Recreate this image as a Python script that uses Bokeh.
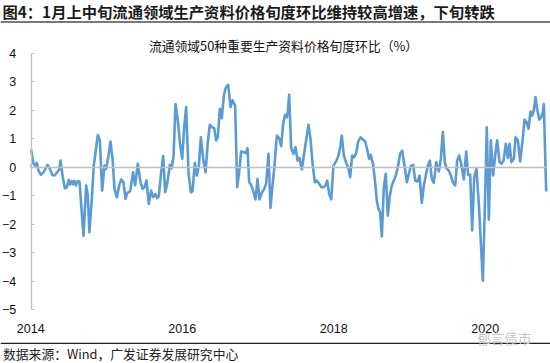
from bokeh.plotting import figure
from bokeh.models import Range1d, LinearAxis, FixedTicker, Label, Span, ColumnDataSource
from bokeh.embed import file_html
from bokeh.resources import INLINE

# ---------------- data ----------------
header_title = "图4：1月上中旬流通领域生产资料价格旬度环比维持较高增速，下旬转跌"
chart_title = "流通领域50种重要生产资料价格旬度环比（%）"
source_text = "数据来源：Wind，广发证券发展研究中心"
watermark_text = "郁言债市"

year_ticks = [2014, 2016, 2018, 2020]
value_ticks = [4, 3, 2, 1, 0, -1, -2, -3, -4, -5]

dates = [
    2014.006, 2014.033, 2014.055, 2014.081, 2014.103, 2014.134, 2014.169, 2014.222, 2014.253, 2014.283,
    2014.314, 2014.349, 2014.376, 2014.393, 2014.424, 2014.451, 2014.477, 2014.503, 2014.521, 2014.543,
    2014.561, 2014.578, 2014.596, 2014.622, 2014.644, 2014.697, 2014.732, 2014.754, 2014.776, 2014.807,
    2014.833, 2014.886, 2014.913, 2014.943, 2014.974, 2014.996, 2015.027, 2015.053, 2015.080, 2015.106,
    2015.137, 2015.168, 2015.194, 2015.225, 2015.251, 2015.278, 2015.313, 2015.352, 2015.379, 2015.414,
    2015.450, 2015.476, 2015.502, 2015.529, 2015.559, 2015.590, 2015.617, 2015.648, 2015.670, 2015.691,
    2015.722, 2015.749, 2015.775, 2015.802, 2015.837, 2015.859, 2015.885, 2015.912, 2015.942, 2015.969,
    2016.000, 2016.026, 2016.052, 2016.083, 2016.114, 2016.136, 2016.167, 2016.193, 2016.220, 2016.246,
    2016.277, 2016.308, 2016.338, 2016.365, 2016.396, 2016.422, 2016.448, 2016.470, 2016.497, 2016.523,
    2016.550, 2016.572, 2016.607, 2016.638, 2016.664, 2016.699, 2016.726, 2016.752, 2016.778, 2016.805,
    2016.840, 2016.862, 2016.884, 2016.910, 2016.937, 2016.968, 2016.994, 2017.020, 2017.051, 2017.086,
    2017.108, 2017.139, 2017.166, 2017.192, 2017.218, 2017.249, 2017.280, 2017.307, 2017.333, 2017.359,
    2017.381, 2017.394, 2017.412, 2017.439, 2017.469, 2017.496, 2017.522, 2017.549, 2017.579, 2017.606,
    2017.632, 2017.667, 2017.694, 2017.720, 2017.751, 2017.777, 2017.808, 2017.839, 2017.865, 2017.892,
    2017.914, 2017.940, 2017.967, 2017.997, 2018.037, 2018.063, 2018.090, 2018.107, 2018.134, 2018.165,
    2018.195, 2018.217, 2018.244, 2018.270, 2018.297, 2018.323, 2018.354, 2018.385, 2018.416, 2018.442,
    2018.468, 2018.490, 2018.521, 2018.547, 2018.569, 2018.591, 2018.613, 2018.635, 2018.662, 2018.688,
    2018.714, 2018.741, 2018.767, 2018.794, 2018.820, 2018.847, 2018.877, 2018.904, 2018.935, 2018.966,
    2018.992, 2019.018, 2019.049, 2019.076, 2019.106, 2019.133, 2019.163, 2019.190, 2019.216, 2019.243,
    2019.269, 2019.296, 2019.322, 2019.353, 2019.388, 2019.414, 2019.441, 2019.467, 2019.489, 2019.520,
    2019.546, 2019.573, 2019.604, 2019.630, 2019.656, 2019.683, 2019.718, 2019.749, 2019.775, 2019.802,
    2019.828, 2019.855, 2019.885, 2019.920, 2019.942, 2019.969, 2019.995, 2020.021, 2020.048, 2020.074,
    2020.105, 2020.132, 2020.158, 2020.189, 2020.215, 2020.242, 2020.272, 2020.299, 2020.321, 2020.347,
    2020.378, 2020.400, 2020.431, 2020.462, 2020.493, 2020.519, 2020.546, 2020.572, 2020.598, 2020.620,
    2020.642, 2020.664, 2020.686, 2020.713, 2020.739, 2020.761, 2020.774, 2020.805,
]

values = [
    0.62, 0.15, 0.06, 0.15, -0.12, -0.27, -0.18, 0.08, -0.06, -0.27,
    -0.29, -0.18, -0.08, 0.23, -0.35, -0.74, -0.71, -0.44, -0.61, -0.49,
    -0.60, -0.48, -0.64, -0.49, -0.50, -2.40, -0.64, -0.99, -2.28, -1.11,
    0.06, 1.13, 0.94, -0.82, 0.06, -0.06, 0.41, 0.90, 0.32, -0.76,
    -1.05, -0.64, -0.43, -0.53, -1.11, -0.90, -0.84, -0.18, -0.64, 0.12,
    -0.53, -0.76, -0.70, -0.47, -1.29, -0.82, -1.05, -0.94, -1.09, -1.02,
    -0.18, 0.39, -0.88, -0.58, 0.08, -0.04, 0.35, 2.22, 1.64, 0.88,
    0.29, 1.40, 2.11, -0.18, -0.88, -0.85, 0.15, -0.29, 0.06, 1.05,
    0.29, -0.18, 0.88, 1.49, 1.40, 1.37, 0.94, 1.05, 2.05, 1.72,
    2.51, 2.77, 2.89, 2.11, 2.35, 2.16, -0.70, -0.18, 0.55, 0.53,
    0.50, 0.67, -0.53, -0.62, -0.82, -1.13, -0.41, -1.13, -0.90, -0.74,
    -0.58, 0.47, -1.43, -0.64, 0.04, 1.11, 1.02, 0.74, 1.52, 1.84,
    1.75, 1.93, 2.54, 0.67, 0.47, 0.70, 0.23, 0.32, -0.08, 0.41,
    0.88, 1.49, 0.99, 0.15, -0.53, -0.47, -0.58, -0.70, -0.70, -0.64,
    -0.47, -0.94, -1.13, 0.06, 0.23, 0.41, 0.76, 1.11, 0.41, 0.15,
    -0.04, -0.35, 0.41, 0.35, 0.50, 0.90, 1.05, 0.97, 0.90, 0.62,
    0.29, 0.43, 0.08, -0.53, -1.17, -1.46, -1.58, -2.43, -0.70, -0.23,
    -1.70, -0.99, -0.64, -0.47, -0.29, 0.00, 0.47, 0.58, 0.06, -0.53,
    -0.23, 0.04, 0.08, -0.47, -0.50, -0.29, -1.25, -0.64, -0.29, 0.06,
    0.23, -0.43, -0.55, 0.18, -0.15, 0.29, 1.23, 0.18, -0.04, -0.12,
    -0.29, -0.53, -0.64, 0.23, 0.41, 0.12, -0.43, 0.55, -0.27, -0.27,
    -2.22, -0.35, -0.06, -1.46, -2.63, -3.98, -1.46, 1.40, -1.84, 0.94,
    -0.29, 0.41, 0.94, 0.18, 0.12, 0.23, 0.82, 0.32, 0.82, 0.18,
    0.29, 1.05, 0.94, 0.20, 0.94, 1.67, 1.58, 1.35, 1.95, 1.81,
    1.99, 2.46, 2.05, 1.67, 1.75, 1.93, 2.22, -0.85,
]

# ---------------- layout (pixels of the 550x363 picture) ----------------
W, H = 550, 363
X_ORIGIN_PX = 30.2      # pixel x of the 2014 tick
PX_PER_YEAR = 75.75
Y_ZERO_PX = 166.7       # pixel y of value 0
PX_PER_UNIT = 28.5


def x_of(px):
    return 2014 + (px - X_ORIGIN_PX) / PX_PER_YEAR


def y_of(py):
    return (Y_ZERO_PX - py) / PX_PER_UNIT


p = figure(width=W, height=H,
           x_range=Range1d(x_of(0), x_of(W)), y_range=Range1d(y_of(H), y_of(0)),
           x_axis_type=None, y_axis_type=None,
           output_backend="svg", toolbar_location=None, min_border=0)
p.outline_line_color = None
p.background_fill_color = "white"
p.border_fill_color = "white"

AXIS_GREY = "#BFBFBF"
TEXT = "#111111"

# zero line with small year ticks
zero_axis = LinearAxis(fixed_location=0, ticker=FixedTicker(ticks=year_ticks),
                       bounds=(x_of(30.7), x_of(546)))
zero_axis.axis_line_color = AXIS_GREY
zero_axis.axis_line_width = 1.3
zero_axis.major_tick_line_color = AXIS_GREY
zero_axis.major_tick_in = 3
zero_axis.major_tick_out = 0
zero_axis.minor_tick_line_color = None
zero_axis.major_label_text_color = None
p.add_layout(zero_axis, "below")

# year labels at the bottom
label_axis = LinearAxis(fixed_location=y_of(316.5), ticker=FixedTicker(ticks=year_ticks),
                        major_label_overrides={y: str(y) for y in year_ticks})
label_axis.axis_line_color = None
label_axis.major_tick_line_color = None
label_axis.minor_tick_line_color = None
label_axis.major_label_standoff = 1
label_axis.major_label_text_font = "Liberation Sans"
label_axis.major_label_text_font_size = "12.5px"
label_axis.major_label_text_color = TEXT
p.add_layout(label_axis, "below")

# value axis
y_axis = LinearAxis(fixed_location=x_of(30.7), ticker=FixedTicker(ticks=value_ticks),
                    bounds=(-5, 4))
y_axis.axis_line_color = AXIS_GREY
y_axis.axis_line_width = 1.3
y_axis.major_tick_line_color = AXIS_GREY
y_axis.major_tick_in = 3
y_axis.major_tick_out = 0
y_axis.minor_tick_line_color = None
y_axis.major_label_standoff = 15
y_axis.major_label_text_font = "Liberation Sans"
y_axis.major_label_text_font_size = "12.5px"
y_axis.major_label_text_color = TEXT
p.add_layout(y_axis, "left")

# series
src = ColumnDataSource(dict(x=dates, y=values))
p.line("x", "y", source=src, line_color="#5B9BD5", line_width=2.6, line_join="round")

# header and rules
p.add_layout(Label(x=2, y=H - 10.5, x_units="screen", y_units="screen", text=header_title,
                   text_font="Noto Sans CJK SC", text_font_style="bold", text_font_size="15.3px",
                   text_color="#1a1a1a", text_baseline="middle", text_align="left"))
p.add_layout(Span(location=y_of(21.5), dimension="width", line_color="#4d4d4d", line_width=1.5))

p.add_layout(Label(x=283, y=H - 45, x_units="screen", y_units="screen", text=chart_title,
                   text_font="Noto Sans CJK SC", text_font_size="12.8px",
                   text_color="#111111", text_baseline="middle", text_align="center"))

p.add_layout(Span(location=y_of(342.8), dimension="width", line_color="#222222", line_width=1.3))

p.add_layout(Label(x=2.5, y=H - 353, x_units="screen", y_units="screen", text=source_text,
                   text_font="Noto Sans CJK SC", text_font_size="12.8px",
                   text_color="#222222", text_baseline="middle", text_align="left"))

p.add_layout(Label(x=477, y=H - 337, x_units="screen", y_units="screen", text=watermark_text,
                   text_font="Noto Sans CJK SC", text_font_size="13.5px",
                   text_color="#C8C8C8", text_baseline="middle", text_align="left"))

open("out.html", "w").write(file_html(p, INLINE))
